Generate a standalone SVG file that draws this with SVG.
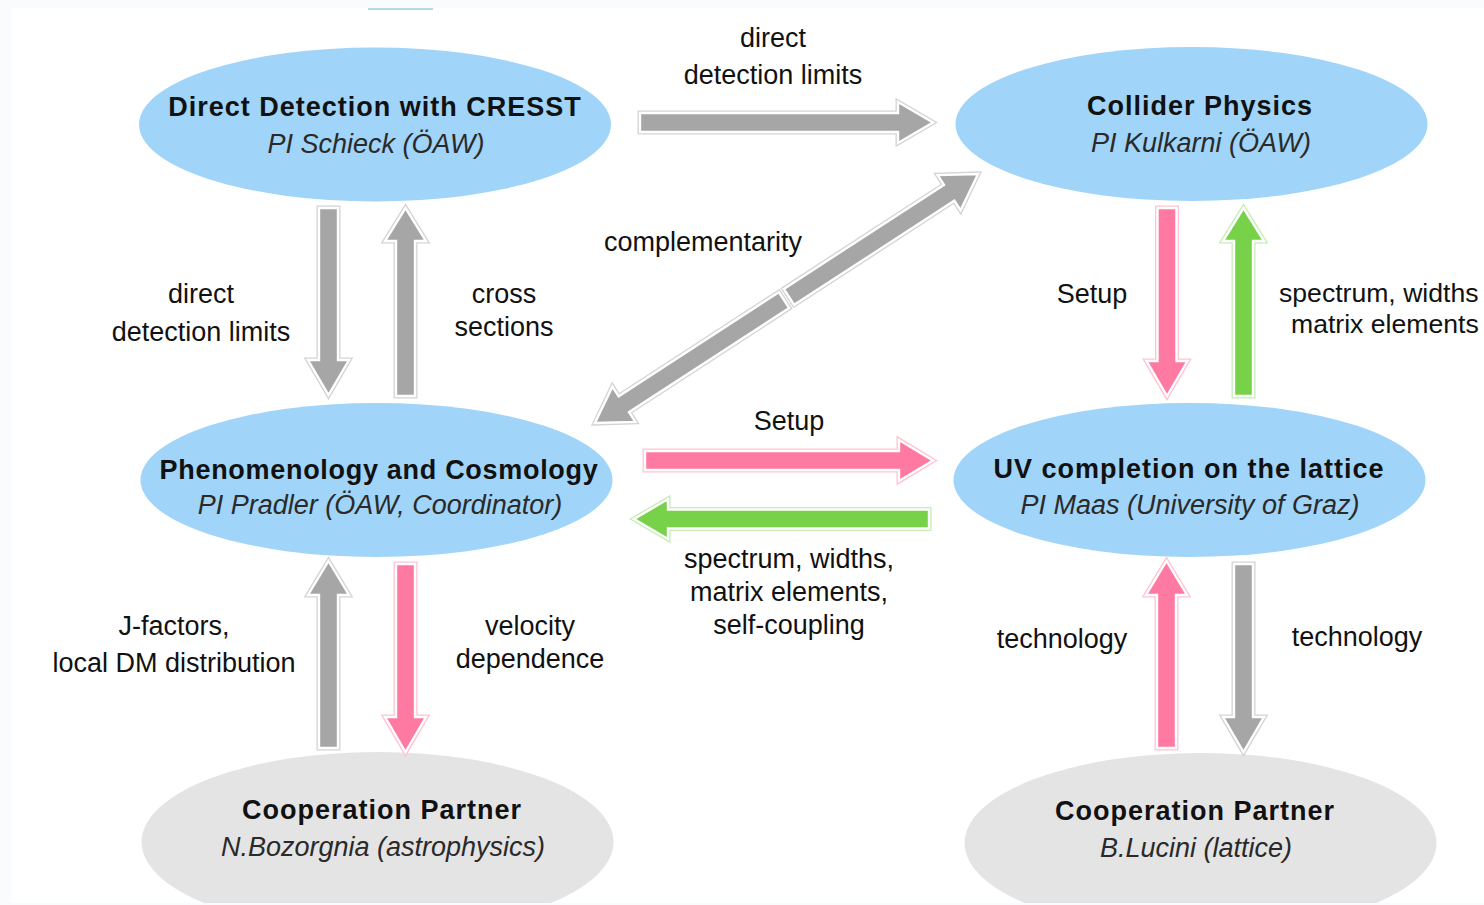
<svg xmlns="http://www.w3.org/2000/svg" xmlns:xlink="http://www.w3.org/1999/xlink" width="1484" height="905" viewBox="0 0 1484 905">
<style>
.bg{fill:#fafbfd}
.blue{fill:#a0d4f8}
.grey{fill:#e4e4e4}
.t{font-family:"Liberation Sans",Arial,sans-serif;font-size:27px;font-weight:bold;fill:#111;text-anchor:middle;letter-spacing:1px}
.s{font-family:"Liberation Sans",Arial,sans-serif;font-size:27px;font-style:italic;fill:#2a2a2a;text-anchor:middle}
.lb{font-family:"Liberation Sans",Arial,sans-serif;font-size:27px;fill:#111;text-anchor:middle}
.ls{text-anchor:start}
.o{stroke-width:5;stroke-linejoin:miter}
.i{stroke:#fff;stroke-width:2.4;stroke-linejoin:miter}
.ga .o{fill:#a6a6a6;stroke:#d4d4d4}
.ga .i{fill:#a6a6a6}
.pa .o{fill:#ff7aa2;stroke:#ffc3d4}
.pa .i{fill:#ff7aa2}
.gr .o{fill:#77d24a;stroke:#c6edb4}
.gr .i{fill:#77d24a}
</style>
<defs>
<clipPath id="page"><rect x="11" y="8" width="1473" height="895"/></clipPath>
<polygon id="hr1" points="640,113 898,113 898,102 933,122.5 898,143 898,132 640,132"/>
<polygon id="hr2" points="645,451 899,451 899,440 933,460.5 899,481 899,470 645,470"/>
<polygon id="hl1" points="929,509.5 668,509.5 668,499 634,519 668,539 668,528.5 929,528.5"/>
<polygon id="vd1" points="319,208 338,208 338,360 349,360 328.5,395 308,360 319,360"/>
<polygon id="vu1" points="396,396 415,396 415,241 426,241 405.5,208 385,241 396,241"/>
<polygon id="vd2" points="1157.5,208 1176.5,208 1176.5,361 1187.5,361 1167,396 1146.5,361 1157.5,361"/>
<polygon id="vu2" points="1234,396 1253,396 1253,241 1264,241 1243.5,208 1223,241 1234,241"/>
<polygon id="vu3" points="319,748 338,748 338,595 349,595 328.5,561 308,595 319,595"/>
<polygon id="vd3" points="396,564 415,564 415,717 426,717 405.5,752 385,717 396,717"/>
<polygon id="vu4" points="1157,748 1176,748 1176,595 1187,595 1166.5,561 1146,595 1157,595"/>
<polygon id="vd4" points="1234,564 1253,564 1253,717 1264,717 1243.5,752 1223,717 1234,717"/>
<polygon id="dg" points="3,-9.5 194,-9.5 194,-21 228.5,0 194,21 194,9.5 3,9.5"/>
</defs>
<rect x="0" y="0" width="1484" height="905" class="bg"/>
<rect x="11" y="8" width="1473" height="895" fill="#ffffff"/>
<line x1="368" y1="9" x2="433" y2="9" stroke="#b3dbe2" stroke-width="2"/>
<g clip-path="url(#page)">
<g id="node-direct-detection">
<ellipse class="blue" cx="375" cy="124.5" rx="236" ry="77"/>
<text class="t" x="375" y="116">Direct Detection with CRESST</text>
<text class="s" x="376" y="153">PI Schieck (ÖAW)</text>
</g>
<g id="node-collider">
<ellipse class="blue" cx="1191.5" cy="124" rx="236" ry="77"/>
<text class="t" x="1200" y="115">Collider Physics</text>
<text class="s" x="1201" y="152">PI Kulkarni (ÖAW)</text>
</g>
<g id="node-phenomenology">
<ellipse class="blue" cx="376.5" cy="480" rx="236" ry="77"/>
<text class="t" x="379" y="479" style="letter-spacing:0.7px">Phenomenology and Cosmology</text>
<text class="s" x="380" y="514">PI Pradler (ÖAW, Coordinator)</text>
</g>
<g id="node-uv-lattice">
<ellipse class="blue" cx="1189.5" cy="480" rx="236" ry="77"/>
<text class="t" x="1189" y="478">UV completion on the lattice</text>
<text class="s" x="1190" y="514">PI Maas (University of Graz)</text>
</g>
<g id="node-coop-bozorgnia">
<ellipse class="grey" cx="377.5" cy="842" rx="236" ry="90"/>
<text class="t" x="382" y="819">Cooperation Partner</text>
<text class="s" x="383" y="856">N.Bozorgnia (astrophysics)</text>
</g>
<g id="node-coop-lucini">
<ellipse class="grey" cx="1200.5" cy="843" rx="236" ry="90"/>
<text class="t" x="1195" y="820">Cooperation Partner</text>
<text class="s" x="1196" y="857">B.Lucini (lattice)</text>
</g>
<g id="connectors">
<g class="ga"><use xlink:href="#hr1" class="o"/><use xlink:href="#hr1" class="i"/></g>
<g class="ga"><use xlink:href="#vd1" class="o"/><use xlink:href="#vd1" class="i"/></g>
<g class="ga"><use xlink:href="#vu1" class="o"/><use xlink:href="#vu1" class="i"/></g>
<g class="ga" transform="translate(786.5 298.5) rotate(-33.03)"><use xlink:href="#dg" class="o"/><use xlink:href="#dg" class="i"/></g>
<g class="ga" transform="translate(786.5 298.5) rotate(146.97)"><use xlink:href="#dg" class="o"/><use xlink:href="#dg" class="i"/></g>
<g class="pa"><use xlink:href="#vd2" class="o"/><use xlink:href="#vd2" class="i"/></g>
<g class="gr"><use xlink:href="#vu2" class="o"/><use xlink:href="#vu2" class="i"/></g>
<g class="pa"><use xlink:href="#hr2" class="o"/><use xlink:href="#hr2" class="i"/></g>
<g class="gr"><use xlink:href="#hl1" class="o"/><use xlink:href="#hl1" class="i"/></g>
<g class="ga"><use xlink:href="#vu3" class="o"/><use xlink:href="#vu3" class="i"/></g>
<g class="pa"><use xlink:href="#vd3" class="o"/><use xlink:href="#vd3" class="i"/></g>
<g class="pa"><use xlink:href="#vu4" class="o"/><use xlink:href="#vu4" class="i"/></g>
<g class="ga"><use xlink:href="#vd4" class="o"/><use xlink:href="#vd4" class="i"/></g>
</g>
<g id="labels">
<text class="lb" x="773" y="47">direct</text>
<text class="lb" x="773" y="84">detection limits</text>
<text class="lb" x="703" y="251">complementarity</text>
<text class="lb" x="201" y="303">direct</text>
<text class="lb" x="201" y="341">detection limits</text>
<text class="lb" x="504" y="303">cross</text>
<text class="lb" x="504" y="336">sections</text>
<text class="lb" x="1092" y="303">Setup</text>
<text class="lb ls" x="1279" y="302" style="font-size:26.6px">spectrum, widths</text>
<text class="lb ls" x="1291" y="333" style="font-size:26.6px">matrix elements</text>
<text class="lb" x="789" y="430">Setup</text>
<text class="lb" x="789" y="568">spectrum, widths,</text>
<text class="lb" x="789" y="601">matrix elements,</text>
<text class="lb" x="789" y="634">self-coupling</text>
<text class="lb" x="174" y="635">J-factors,</text>
<text class="lb" x="174" y="672">local DM distribution</text>
<text class="lb" x="530" y="635">velocity</text>
<text class="lb" x="530" y="668">dependence</text>
<text class="lb" x="1062" y="648">technology</text>
<text class="lb" x="1357" y="646">technology</text>
</g>
</g>
</svg>
